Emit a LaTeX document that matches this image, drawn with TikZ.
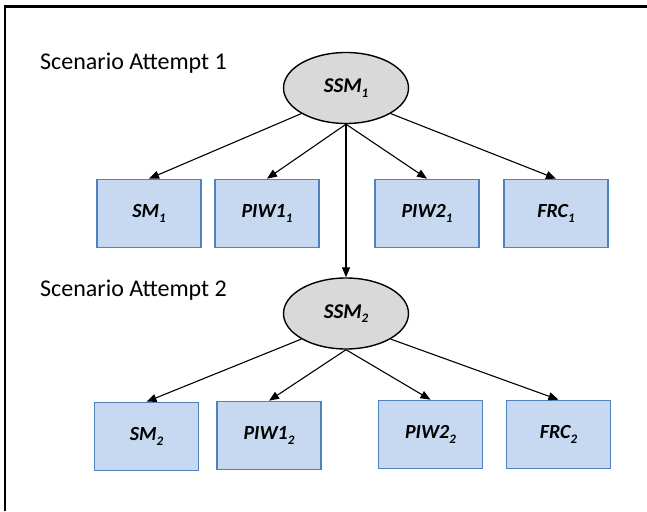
\documentclass[tikz,border=0pt]{standalone}
\usepackage{fontspec}
\setmainfont{Carlito}
\usetikzlibrary{arrows.meta, shapes.geometric}
\definecolor{boxfill}{HTML}{C6D9F1}
\definecolor{boxline}{HTML}{4F81BD}
\definecolor{ssmfill}{HTML}{D9D9D9}
\newcommand{\lowsub}[1]{\raisebox{-0.45ex}{\fontsize{13}{13}\selectfont #1}}
\tikzset{
  box/.style={rectangle,draw=boxline,fill=boxfill,line width=1.6pt,minimum width=104pt,minimum height=68pt,font=\fontsize{20}{22}\selectfont\bfseries\itshape},
  ssm/.style={ellipse,draw,fill=ssmfill,line width=1.4pt,minimum width=125pt,minimum height=71pt,inner sep=0pt,font=\fontsize{21}{23}\selectfont\bfseries\itshape},
  attempt/.style={anchor=west,inner sep=0pt,font=\fontsize{24}{26}\selectfont},
  line/.style={-{Triangle[length=10pt,width=8pt]},line width=1.1pt}
}

\begin{document}
\begin{tikzpicture}[x=1pt,y=-1pt]
\useasboundingbox (0,0) rectangle (647,511);
\draw[line width=2.5pt] (5,511) -- (5,6.5) -- (647,6.5);

% attempt 1
\node[attempt] (att1) at (40,63) {Scenario Attempt 1};
\node[ssm] (ssm1) at (346,88) {SSM\lowsub{1}};
\node[box] (sm1) at (149,213.5) {SM\lowsub{1}};
\node[box] (piwa1) at (267,213.5) {PIW1\lowsub{1}};
\node[box] (piwb1) at (427,213.5) {PIW2\lowsub{1}};
\node[box] (frc1) at (556,213.5) {FRC\lowsub{1}};
\draw[line] (ssm1.south west) -- (sm1.north);
\draw[line] (ssm1.south) -- (piwa1.north);
\draw[line] (ssm1.south) -- (piwb1.north);
\draw[line] (ssm1.south east) -- (frc1.north);

% attempt 2
\node[attempt] (att2) at (40,290) {Scenario Attempt 2};
\node[ssm] (ssm2) at (346,313.5) {SSM\lowsub{2}};
\node[box] (sm2) at (146.5,436.5) {SM\lowsub{2}};
\node[box] (piwa2) at (269,435.5) {PIW1\lowsub{2}};
\node[box] (piwb2) at (430.5,434.5) {PIW2\lowsub{2}};
\node[box] (frc2) at (558.5,434.5) {FRC\lowsub{2}};
\draw[line] (ssm2.south west) -- (sm2.north);
\draw[line] (ssm2.south) -- (piwa2.north);
\draw[line] (ssm2.south) -- (piwb2.north);
\draw[line] (ssm2.south east) -- (frc2.north);

\draw[line] (ssm1.south) -- (ssm2.north);
\end{tikzpicture}
\end{document}
